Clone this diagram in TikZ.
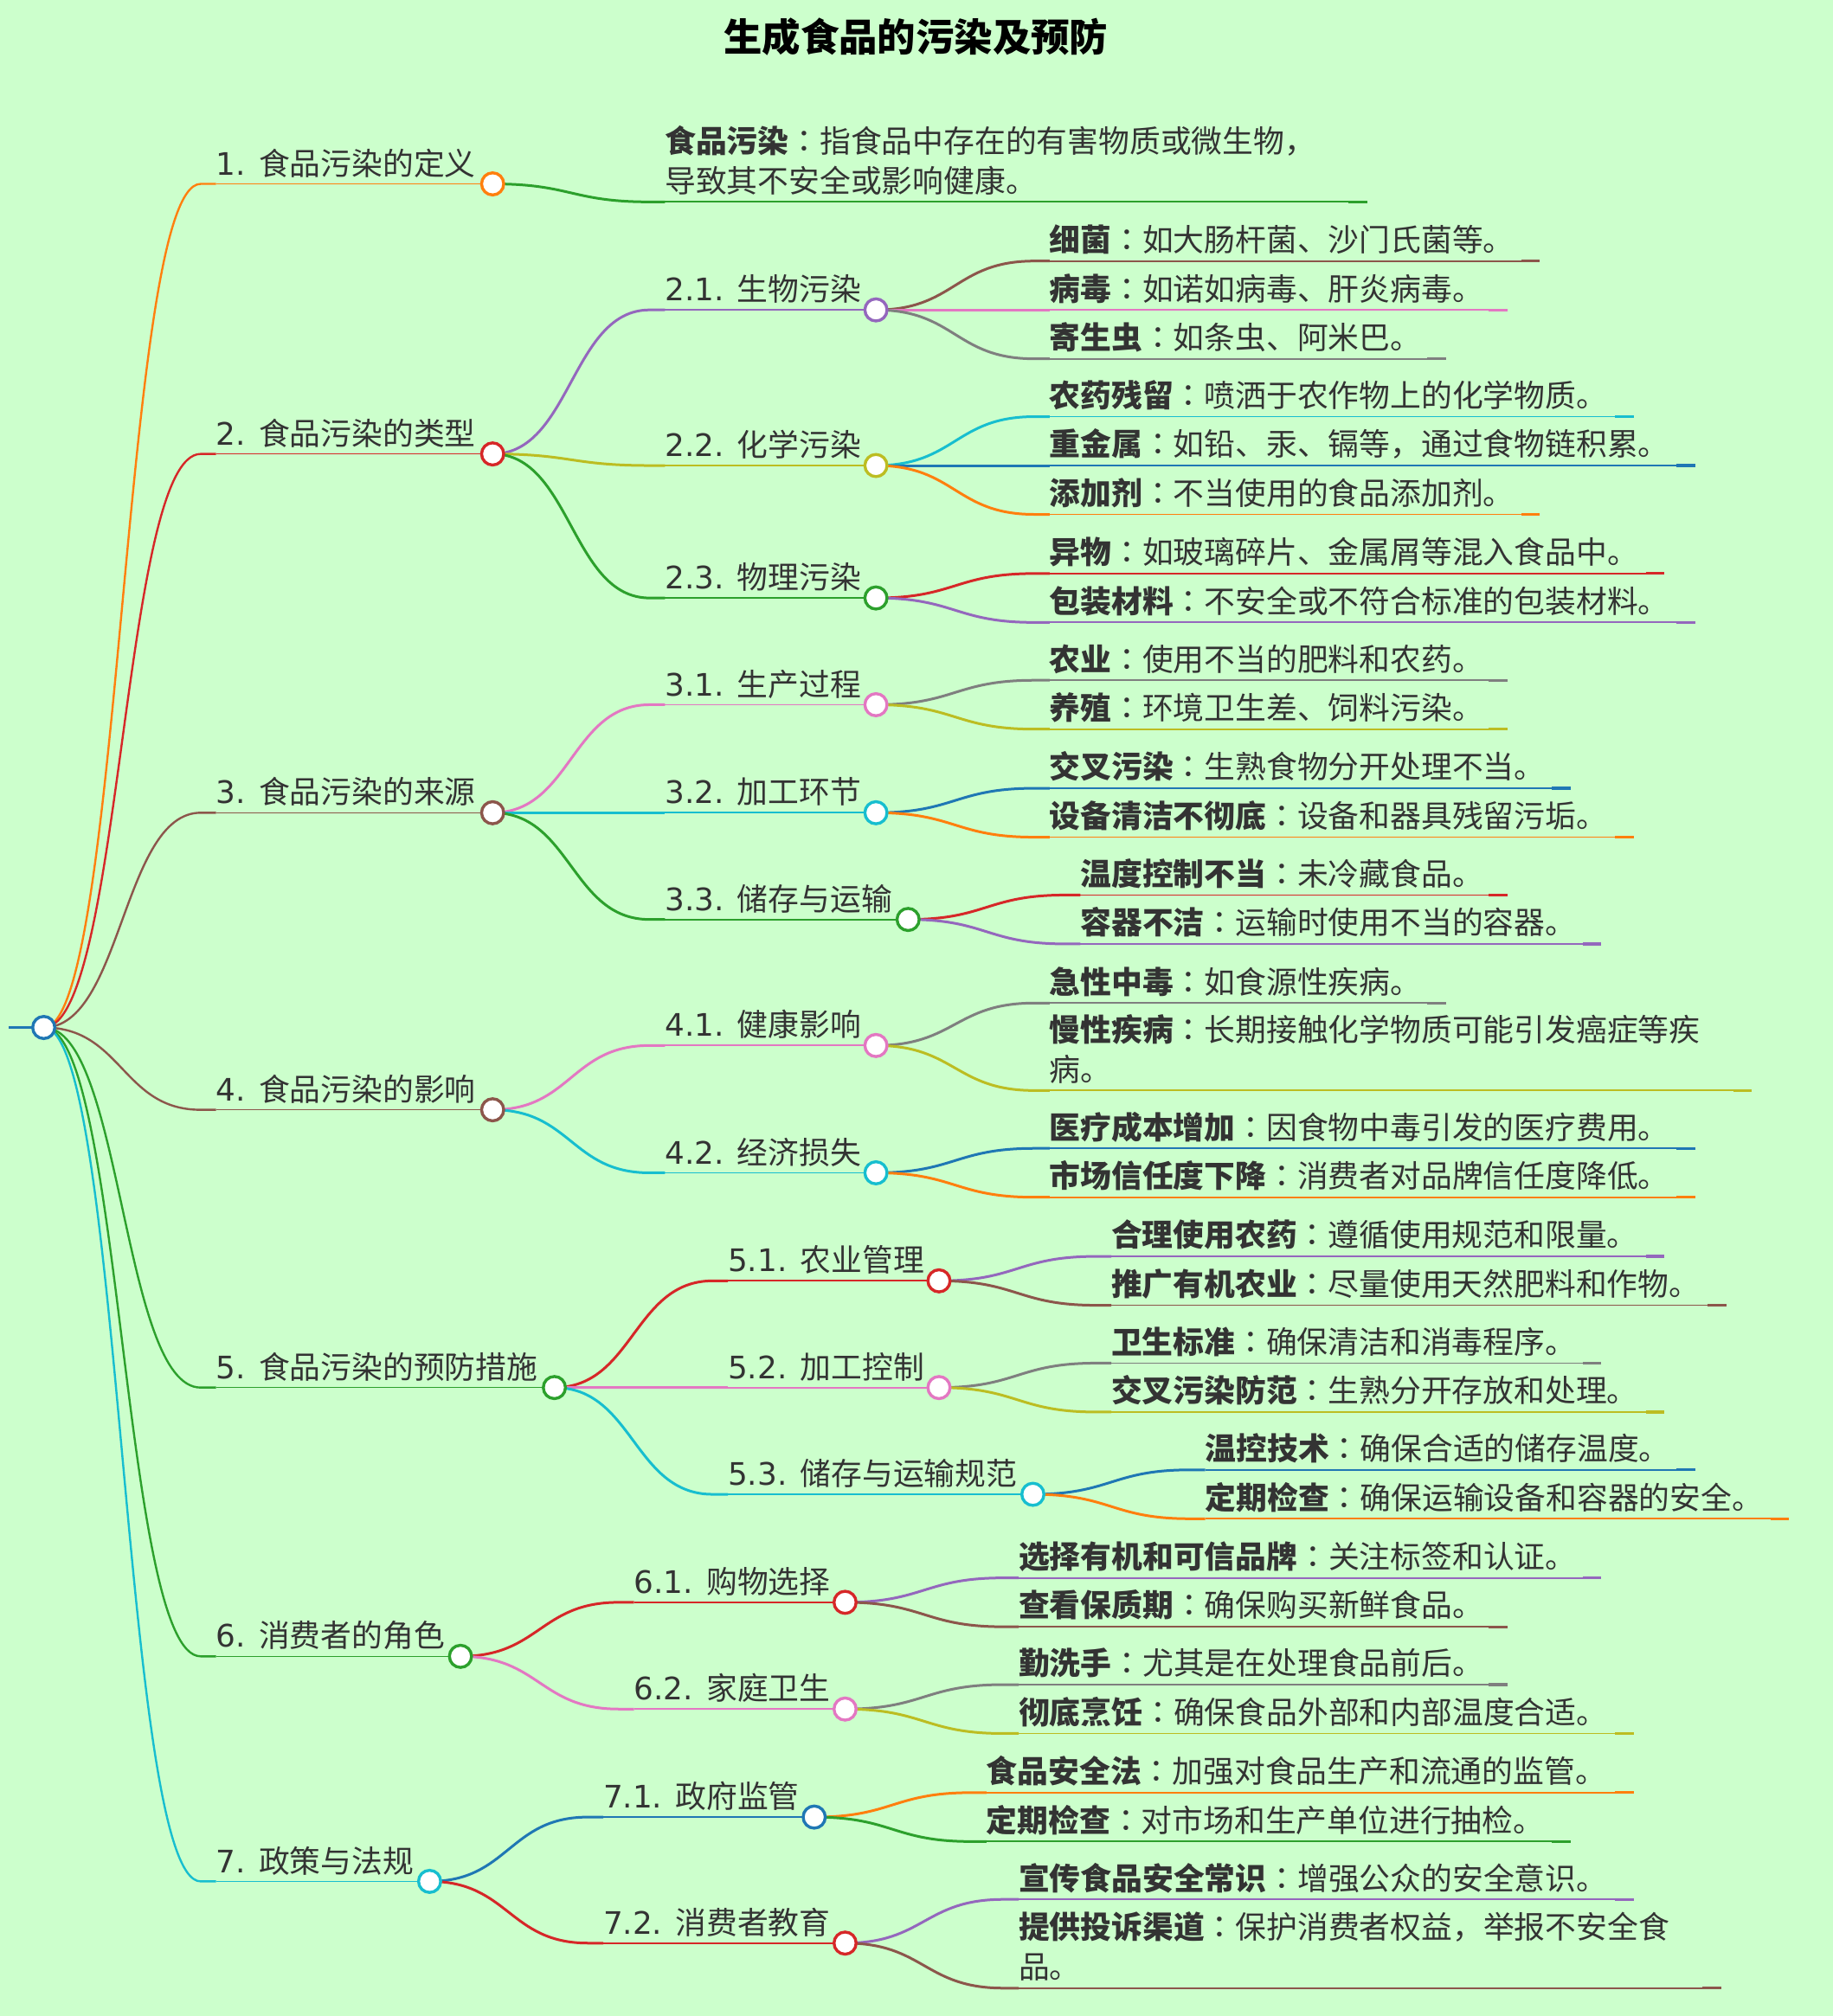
\documentclass[tikz,border=0pt]{standalone}
\usepackage{fontspec}
\setmainfont{DejaVu Sans}
\newfontfamily\cjk{Noto Sans CJK SC}
\newfontfamily\cjkjp{Noto Sans CJK JP}
\newfontfamily\dejavu{DejaVu Sans}
\usetikzlibrary{calc}
\pgfdeclarelayer{fg}
\pgfsetlayers{main,fg}
\definecolor{bg}{HTML}{CCFFCC}
\definecolor{txt}{HTML}{333333}
\definecolor{cblue}{HTML}{1F77B4}
\definecolor{corange}{HTML}{FF7F0E}
\definecolor{cgreen}{HTML}{2CA02C}
\definecolor{cred}{HTML}{D62728}
\definecolor{cpurple}{HTML}{9467BD}
\definecolor{cbrown}{HTML}{8C564B}
\definecolor{cpink}{HTML}{E377C2}
\definecolor{cgray}{HTML}{7F7F7F}
\definecolor{colive}{HTML}{BCBD22}
\definecolor{ccyan}{HTML}{17BECF}
\tikzset{
  lbl/.style={anchor=base west, inner sep=0pt, outer sep=0pt, text=txt,
    font=\cjk\fontsize{17.9pt}{21pt}\selectfont},
  ttl/.style={anchor=base, inner sep=0pt, text=black,
    font=\cjk\bfseries\fontsize{22.2pt}{26pt}\selectfont},
  dot/.style={circle, fill=white, inner sep=0pt, minimum size=12.8pt, line width=1.7pt},
  lk1/.style={line width=1.2pt},
  lk2/.style={line width=1.5pt},
  ul1/.style={line width=0.7pt},
  ul2/.style={line width=0.9pt},
  stub/.style={line width=1.6pt},
}
% link: from parent point #2 to start coordinate #3
\newcommand\lnk[3]{\draw[#1] let \p1=(#2), \p2=(#3) in (\p1)
  .. controls ({0.5*\x1+0.5*\x2-4.46pt},\y1) and ({0.5*\x1+0.5*\x2-4.46pt},\y2)
  .. ({\x2-8.92pt},\y2) -- (\p2);}
% inner node: name parent x y circlex color text linkstyle ulstyle
\newcommand\branch[9]{%
  \node[lbl] (#1) at (#3,#4-7) {#7};
  \coordinate (#1-s) at (#3,#4);
  \begin{pgfonlayer}{fg}\node[dot,draw=#6] (#1-c) at (#5,#4) {};\end{pgfonlayer}
  \lnk{#6,#8}{#2-c.center}{#1-s}
  \draw[#6,#9] (#1-s) -- (#1-c.center);
}
% leaf: name parent x y endx color text
\newcommand\leaf[7]{%
  \node[lbl] (#1) at (#3,#4-7.5) {#7};
  \coordinate (#1-s) at (#3,#4);
  \coordinate (#1-e) at (#5,#4);
  \lnk{#6,lk2}{#2-c.center}{#1-s}
  \draw[#6,ul2] (#1-s) -- (#1-e);
  \draw[#6,stub] ($(#1-e)+(-14.5,0)$) -- (#1-e);
}
% two-line leaf: name parent x y endx color line1 line2
\newcommand\leafii[8]{%
  \node[lbl] (#1) at (#3,#4-38.5) {#7};
  \node[lbl] (#1-b) at (#3,#4-7.5) {#8};
  \coordinate (#1-s) at (#3,#4);
  \coordinate (#1-e) at (#5,#4);
  \lnk{#6,lk2}{#2-c.center}{#1-s}
  \draw[#6,ul2] (#1-s) -- (#1-e);
  \draw[#6,stub] ($(#1-e)+(-14.5,0)$) -- (#1-e);
}
\newcommand\B[1]{{\bfseries #1}{\cjkjp ：}}
\newcommand\N[1]{{\dejavu #1}}
\begin{document}
\begin{tikzpicture}[x=0.7432pt,y=-0.7432pt]
\fill[bg] (0,0) rectangle (1425,1567.7);
\useasboundingbox (0,0) rectangle (1425,1567.7);
\node[ttl] (title) at (712,40) {生成食品的污染及预防};
% root
\begin{pgfonlayer}{fg}\node[dot,draw=cblue] (r-c) at (34,799) {};\end{pgfonlayer}
\coordinate (r-tail) at (7,799);
\draw[cblue,line width=1.8pt] (r-tail) -- (r-c.center);
% level 1
\branch{a1}{r}{168}{143}{383}{corange}{\N{1. }食品污染的定义}{lk1}{ul1}
\branch{a2}{r}{168}{353}{383}{cred}{\N{2. }食品污染的类型}{lk1}{ul1}
\branch{a3}{r}{168}{632}{383}{cbrown}{\N{3. }食品污染的来源}{lk1}{ul1}
\branch{a4}{r}{168}{863}{383}{cbrown}{\N{4. }食品污染的影响}{lk1}{ul1}
\branch{a5}{r}{168}{1079}{431}{cgreen}{\N{5. }食品污染的预防措施}{lk1}{ul1}
\branch{a6}{r}{168}{1288}{358}{cgreen}{\N{6. }消费者的角色}{lk1}{ul1}
\branch{a7}{r}{168}{1463}{334}{ccyan}{\N{7. }政策与法规}{lk1}{ul1}
% 1
\leafii{d1}{a1}{517}{157}{1063}{cgreen}{\B{食品污染}指食品中存在的有害物质或微生物，}{导致其不安全或影响健康。}
% 2
\branch{b21}{a2}{517}{241}{681}{cpurple}{\N{2.1. }生物污染}{lk2}{ul2}
\branch{b22}{a2}{517}{362}{681}{colive}{\N{2.2. }化学污染}{lk2}{ul2}
\branch{b23}{a2}{517}{465}{681}{cgreen}{\N{2.3. }物理污染}{lk2}{ul2}
\leaf{l211}{b21}{816}{203}{1197}{cbrown}{\B{细菌}如大肠杆菌、沙门氏菌等。}
\leaf{l212}{b21}{816}{241}{1172}{cpink}{\B{病毒}如诺如病毒、肝炎病毒。}
\leaf{l213}{b21}{816}{279}{1124}{cgray}{\B{寄生虫}如条虫、阿米巴。}
\leaf{l221}{b22}{816}{324}{1270}{ccyan}{\B{农药残留}喷洒于农作物上的化学物质。}
\leaf{l222}{b22}{816}{362}{1318}{cblue}{\B{重金属}如铅、汞、镉等，通过食物链积累。}
\leaf{l223}{b22}{816}{400}{1197}{corange}{\B{添加剂}不当使用的食品添加剂。}
\leaf{l231}{b23}{816}{446}{1294}{cred}{\B{异物}如玻璃碎片、金属屑等混入食品中。}
\leaf{l232}{b23}{816}{484}{1318}{cpurple}{\B{包装材料}不安全或不符合标准的包装材料。}
% 3
\branch{b31}{a3}{517}{548}{681}{cpink}{\N{3.1. }生产过程}{lk2}{ul2}
\branch{b32}{a3}{517}{632}{681}{ccyan}{\N{3.2. }加工环节}{lk2}{ul2}
\branch{b33}{a3}{517}{715}{706}{cgreen}{\N{3.3. }储存与运输}{lk2}{ul2}
\leaf{l311}{b31}{816}{529}{1172}{cgray}{\B{农业}使用不当的肥料和农药。}
\leaf{l312}{b31}{816}{567}{1172}{colive}{\B{养殖}环境卫生差、饲料污染。}
\leaf{l321}{b32}{816}{613}{1221}{cblue}{\B{交叉污染}生熟食物分开处理不当。}
\leaf{l322}{b32}{816}{651}{1270}{corange}{\B{设备清洁不彻底}设备和器具残留污垢。}
\leaf{l331}{b33}{840}{696}{1172}{cred}{\B{温度控制不当}未冷藏食品。}
\leaf{l332}{b33}{840}{734}{1245}{cpurple}{\B{容器不洁}运输时使用不当的容器。}
% 4
\branch{b41}{a4}{517}{813}{681}{cpink}{\N{4.1. }健康影响}{lk2}{ul2}
\branch{b42}{a4}{517}{912}{681}{ccyan}{\N{4.2. }经济损失}{lk2}{ul2}
\leaf{l411}{b41}{816}{780}{1124}{cgray}{\B{急性中毒}如食源性疾病。}
\leafii{l412}{b41}{816}{848}{1362}{colive}{\B{慢性疾病}长期接触化学物质可能引发癌症等疾}{病。}
\leaf{l421}{b42}{816}{893}{1318}{cblue}{\B{医疗成本增加}因食物中毒引发的医疗费用。}
\leaf{l422}{b42}{816}{931}{1318}{corange}{\B{市场信任度下降}消费者对品牌信任度降低。}
% 5
\branch{b51}{a5}{566}{996}{730}{cred}{\N{5.1. }农业管理}{lk2}{ul2}
\branch{b52}{a5}{566}{1079}{730}{cpink}{\N{5.2. }加工控制}{lk2}{ul2}
\branch{b53}{a5}{566}{1162}{803}{ccyan}{\N{5.3. }储存与运输规范}{lk2}{ul2}
\leaf{l511}{b51}{864}{977}{1294}{cpurple}{\B{合理使用农药}遵循使用规范和限量。}
\leaf{l512}{b51}{864}{1015}{1342}{cbrown}{\B{推广有机农业}尽量使用天然肥料和作物。}
\leaf{l521}{b52}{864}{1060}{1245}{cgray}{\B{卫生标准}确保清洁和消毒程序。}
\leaf{l522}{b52}{864}{1098}{1294}{colive}{\B{交叉污染防范}生熟分开存放和处理。}
\leaf{l531}{b53}{937}{1143}{1318}{cblue}{\B{温控技术}确保合适的储存温度。}
\leaf{l532}{b53}{937}{1181}{1391}{corange}{\B{定期检查}确保运输设备和容器的安全。}
% 6
\branch{b61}{a6}{493}{1246}{657}{cred}{\N{6.1. }购物选择}{lk2}{ul2}
\branch{b62}{a6}{493}{1329}{657}{cpink}{\N{6.2. }家庭卫生}{lk2}{ul2}
\leaf{l611}{b61}{792}{1227}{1245}{cpurple}{\B{选择有机和可信品牌}关注标签和认证。}
\leaf{l612}{b61}{792}{1265}{1172}{cbrown}{\B{查看保质期}确保购买新鲜食品。}
\leaf{l621}{b62}{792}{1310}{1172}{cgray}{\B{勤洗手}尤其是在处理食品前后。}
\leaf{l622}{b62}{792}{1348}{1270}{colive}{\B{彻底烹饪}确保食品外部和内部温度合适。}
% 7
\branch{b71}{a7}{469}{1413}{633}{cblue}{\N{7.1. }政府监管}{lk2}{ul2}
\branch{b72}{a7}{469}{1511}{657}{cred}{\N{7.2. }消费者教育}{lk2}{ul2}
\leaf{l711}{b71}{767}{1394}{1270}{corange}{\B{食品安全法}加强对食品生产和流通的监管。}
\leaf{l712}{b71}{767}{1432}{1221}{cgreen}{\B{定期检查}对市场和生产单位进行抽检。}
\leaf{l721}{b72}{792}{1477}{1270}{cpurple}{\B{宣传食品安全常识}增强公众的安全意识。}
\leafii{l722}{b72}{792}{1546}{1338}{cbrown}{\B{提供投诉渠道}保护消费者权益，举报不安全食}{品。}
\end{tikzpicture}
\end{document}
